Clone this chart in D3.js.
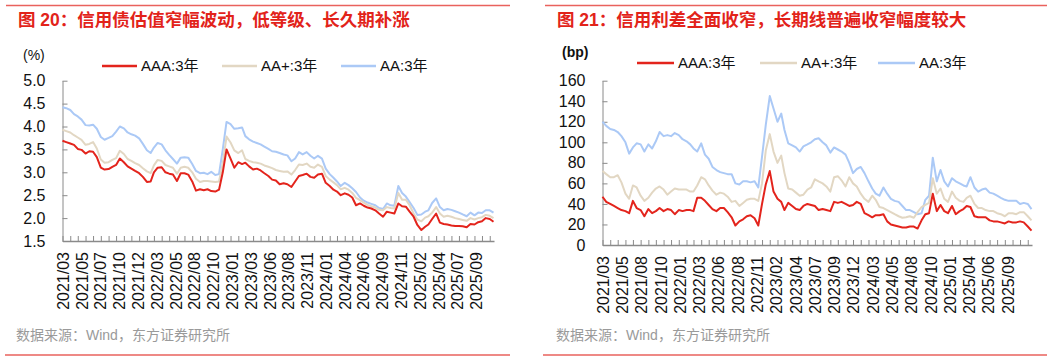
<!DOCTYPE html>
<html>
<head>
<meta charset="utf-8">
<script src="https://cdn.jsdelivr.net/npm/d3@7"></script>
<style>
  body { margin: 0; background: #fff; }
  svg text { font-family: "Liberation Sans", Arial, "Noto Sans CJK SC", sans-serif; }
</style>
</head>
<body>
<svg id="chart" width="1061" height="362"></svg>
<script>
// ---- data (one value per half month, 2021/03/01 .. 2025/11/16) ----
const parseDay = d3.timeParse("%Y-%m-%d");
const startDay = parseDay("2021-03-01");
const endDay = parseDay("2025-11-18");
const dates = [];
d3.timeMonth.range(startDay, parseDay("2025-12-01")).forEach(m => {
  dates.push(m);
  dates.push(d3.timeDay.offset(m, 15));
});

const seriesNames = ["AAA:3年", "AA+:3年", "AA:3年"];

// 图20: 估值 (%)
const yieldAAA = [3.69,3.66,3.63,3.60,3.51,3.49,3.41,3.46,3.45,3.33,
  3.10,3.06,3.07,3.12,3.16,3.30,3.22,3.13,3.08,3.03,
  2.98,2.90,2.79,2.80,3.00,3.10,3.11,3.00,2.97,2.95,
  2.81,2.98,2.98,2.95,2.80,2.60,2.63,2.61,2.63,2.59,
  2.58,2.62,3.00,3.50,3.30,3.10,3.22,3.18,3.21,3.13,
  3.06,3.08,3.04,2.98,2.92,2.84,2.82,2.74,2.76,2.74,
  2.68,2.80,2.92,2.94,2.97,2.90,2.88,2.95,2.97,2.77,
  2.70,2.62,2.58,2.50,2.54,2.51,2.45,2.28,2.32,2.27,
  2.23,2.21,2.17,2.10,2.03,2.14,2.12,2.10,2.32,2.26,
  2.25,2.14,2.03,1.85,1.74,1.81,1.86,1.98,2.10,1.90,
  1.87,1.86,1.84,1.83,1.83,1.82,1.80,1.87,1.86,1.91,
  1.93,2.00,1.98,1.92];
const yieldAAp = [3.93,3.90,3.87,3.81,3.76,3.71,3.60,3.62,3.66,3.52,
  3.28,3.21,3.22,3.27,3.31,3.47,3.40,3.29,3.25,3.20,
  3.16,3.09,3.02,2.98,3.15,3.27,3.25,3.16,3.13,3.10,
  2.97,3.10,3.12,3.10,3.00,2.86,2.79,2.81,2.81,2.80,
  2.79,2.80,3.20,3.78,3.65,3.48,3.42,3.48,3.29,3.25,
  3.22,3.21,3.19,3.15,3.12,3.09,3.05,3.03,3.01,3.02,
  2.95,3.05,3.17,3.16,3.19,3.12,3.10,3.17,3.12,2.92,
  2.84,2.78,2.72,2.63,2.66,2.62,2.55,2.44,2.39,2.34,
  2.29,2.26,2.23,2.18,2.17,2.24,2.22,2.21,2.55,2.40,
  2.40,2.28,2.10,1.97,1.93,2.01,2.04,2.12,2.24,2.10,
  2.03,2.05,2.03,2.00,1.98,1.96,1.94,2.00,1.97,2.00,
  2.02,2.07,2.05,2.00];
const yieldAA = [4.42,4.40,4.36,4.27,4.22,4.15,4.03,4.02,4.04,3.95,
  3.77,3.71,3.75,3.79,3.89,4.00,3.96,3.87,3.83,3.80,
  3.74,3.62,3.48,3.42,3.54,3.64,3.61,3.48,3.38,3.29,
  3.19,3.32,3.33,3.32,3.18,3.03,2.98,2.99,2.96,3.01,
  2.94,2.96,3.50,4.10,4.05,3.95,3.96,3.98,3.79,3.72,
  3.67,3.64,3.61,3.56,3.51,3.46,3.45,3.42,3.39,3.37,
  3.24,3.30,3.44,3.39,3.44,3.36,3.30,3.36,3.30,3.08,
  2.96,2.88,2.80,2.70,2.77,2.72,2.65,2.57,2.45,2.38,
  2.34,2.31,2.28,2.22,2.20,2.32,2.28,2.27,2.70,2.55,
  2.47,2.35,2.22,2.07,2.08,2.14,2.17,2.33,2.43,2.24,
  2.17,2.20,2.18,2.15,2.12,2.08,2.04,2.12,2.06,2.12,
  2.11,2.17,2.17,2.12];

// 图21: 信用利差 (bp)
const spreadAAA = [47,42,40,38,36,34,33,31,43,36,
  34,28,35,31,33,36,33,35,34,30,
  34,33,34,34,33,46,46,43,39,35,
  33,36,36,32,27,19,23,25,28,29,
  26,19,40,59,72,52,45,42,34,41,
  38,35,34,38,40,39,38,34,35,34,
  33,42,41,42,40,38,39,42,40,31,
  29,27,29,29,30,23,20,19,18,17,
  17,18,18,16,24,30,31,50,33,39,
  33,31,38,30,33,35,38,37,28,27,
  27,27,24,23,23,22,21,23,22,22,
  23,22,18,14];
const spreadAAp = [72,69,66,66,68,61,50,45,58,56,
  48,43,46,51,55,57,54,49,52,55,
  54,54,54,52,52,58,66,64,58,53,
  49,51,50,47,42,43,38,41,44,45,
  45,43,60,92,108,91,80,87,70,55,
  54,51,48,49,54,56,64,62,60,57,
  52,66,67,63,57,66,60,57,50,45,
  42,48,44,37,36,34,32,30,28,26.5,
  27,28,26.5,32,37,39,41,65,50,55,
  45,42,52,46,43,42,46,48,40,36,
  36,34,33,33,31,30,28,31,31,30,
  32,32,28,24];
const spreadAA = [120,116,113,112,110,106,100,89,95,99,
  98,91,98,94,101,110,106,107,106,109,
  107,103,101,98,94,91,99,88,84,76,
  73,71,70,69,69,60,59,62,62,61,
  62,56,86,117,145,133,120,128,112,99,
  97,95,91,96,98,100,103,104,100,97,
  90,95,93,91,88,80,70,74,76,70,
  62,55,50,48,56,50,45,43,42,38,
  34,34,32,30,31,44,48,85,62,73,
  62,57,65,62,60,58,57,66,56,52,
  54,55,51,50,48,46,44,43,43,43,
  40,41,40,35];

const labelsLeft = ["2021/03","2021/05","2021/07","2021/10","2021/12","2022/03","2022/05","2022/08",
  "2022/10","2023/01","2023/03","2023/06","2023/08","2023/11","2024/01","2024/04","2024/06",
  "2024/09","2024/11","2025/02","2025/04","2025/07","2025/09"];
const labelsRight = ["2021/03","2021/05","2021/08","2021/10","2022/01","2022/03","2022/06","2022/08",
  "2022/11","2023/02","2023/04","2023/07","2023/09","2023/12","2024/03","2024/05","2024/08",
  "2024/10","2025/01","2025/04","2025/06","2025/09"];
const yTicksLeft = [1.5, 2.0, 2.5, 3.0, 3.5, 4.0, 4.5, 5.0];
const yTicksRight = [0, 20, 40, 60, 80, 100, 120, 140, 160];

const colors = ["#e3241c", "#e2d7c3", "#abc9f6"];
const axisColor = "#8a8a8a";
const ruleColor = "#e9625d";

const svg = d3.select("#chart");

function panel(cfg) {
  const g = svg.append("g");
  const x = d3.scaleTime().domain([startDay, endDay]).range([cfg.x0, cfg.x1]);
  const y = d3.scaleLinear().domain([cfg.yTicks[0], cfg.yTicks[cfg.yTicks.length - 1]])
    .range([cfg.yBottom, cfg.yTop]);

  // red rules top and bottom
  g.append("line").attr("x1", cfg.ruleTop[0]).attr("x2", cfg.ruleTop[1])
    .attr("y1", 5.5).attr("y2", 5.5).attr("stroke", ruleColor).attr("stroke-width", 1.6);
  g.append("line").attr("x1", cfg.ruleBottom[0]).attr("x2", cfg.ruleBottom[1])
    .attr("y1", 355).attr("y2", 355).attr("stroke", ruleColor).attr("stroke-width", 1.6);

  g.append("text")
    .attr("x", cfg.titleX).attr("y", 26)
    .attr("fill", "#e2231a").attr("font-size", "17.5px").attr("font-weight", "bold")
    .text(cfg.title);

  g.append("text")
    .attr("x", cfg.unitX).attr("y", cfg.unitY).attr("dy", "0.35em")
    .attr("font-size", "14px").attr("font-weight", cfg.unitBold ? "bold" : "normal")
    .attr("fill", "#111")
    .text(cfg.unit);

  // legend
  seriesNames.forEach((name, i) => {
    const lx = cfg.legendX[i];
    g.append("line").attr("x1", lx).attr("x2", lx + cfg.legendLen)
      .attr("y1", cfg.legendY).attr("y2", cfg.legendY)
      .attr("stroke", colors[i]).attr("stroke-width", 2.5);
    g.append("text").attr("x", lx + cfg.legendLen + 4).attr("y", cfg.legendY).attr("dy", "0.35em")
      .attr("font-size", "15px").attr("fill", "#111").text(name);
  });

  // y axis
  const ya = g.append("g").attr("transform", `translate(${cfg.x0},0)`)
    .call(d3.axisLeft(y).tickValues(cfg.yTicks).tickFormat(cfg.yFormat)
      .tickSizeInner(-5).tickSizeOuter(0).tickPadding(17));
  ya.selectAll("path,line").attr("stroke", axisColor);
  ya.selectAll("text").attr("font-size", "16px").attr("fill", "#111")
    .attr("font-family", null);

  // x axis: monthly minor ticks
  const xa = g.append("g").attr("transform", `translate(0,${cfg.yBottom})`)
    .call(d3.axisBottom(x).tickValues(d3.timeMonth.range(startDay, endDay))
      .tickSizeInner(-5).tickSizeOuter(0).tickFormat(""));
  xa.selectAll("path,line").attr("stroke", axisColor);
  xa.select("path").attr("stroke-width", 1.3);

  // x axis: category labels
  const lab = d3.scalePoint().domain(cfg.labels).range(cfg.labelRange);
  const la = g.append("g").attr("transform", `translate(0,${cfg.yBottom})`)
    .call(d3.axisBottom(lab).tickSize(0));
  la.select("path").remove();
  la.selectAll("text")
    .attr("transform", "rotate(-90)")
    .attr("text-anchor", "end")
    .attr("x", -11).attr("y", 0).attr("dy", "0.36em")
    .attr("font-size", "16px").attr("fill", "#111");

  // lines, AA at back, AAA on top
  const line = d3.line().x((d, i) => x(dates[i])).y(d => y(d));
  [2, 1, 0].forEach(i => {
    g.append("path").datum(cfg.series[i])
      .attr("fill", "none").attr("stroke", colors[i]).attr("stroke-width", 2)
      .attr("stroke-linejoin", "round")
      .attr("d", line);
  });

  g.append("text").attr("x", cfg.sourceX).attr("y", 335).attr("dy", "0.35em")
    .attr("font-size", "14px").attr("fill", "#9a9a9a")
    .text("数据来源：Wind，东方证券研究所");
}

panel({
  title: "图 20：信用债估值窄幅波动，低等级、长久期补涨",
  titleX: 18, ruleTop: [6, 510], ruleBottom: [5, 510],
  unit: "(%)", unitX: 23, unitY: 55, unitBold: false,
  x0: 62.5, x1: 494, yTop: 80.7, yBottom: 241,
  yTicks: yTicksLeft, yFormat: d3.format(".1f"),
  labels: labelsLeft, labelRange: [62.5, 476],
  legendX: [102, 222, 341], legendLen: 35, legendY: 66,
  series: [yieldAAA, yieldAAp, yieldAA],
  sourceX: 16
});

panel({
  title: "图 21：信用利差全面收窄，长期线普遍收窄幅度较大",
  titleX: 557, ruleTop: [545, 1047], ruleBottom: [543, 1047],
  unit: "(bp)", unitX: 562, unitY: 52, unitBold: true,
  x0: 602.5, x1: 1032, yTop: 80.7, yBottom: 245,
  yTicks: yTicksRight, yFormat: d3.format("d"),
  labels: labelsRight, labelRange: [602.5, 1007.5],
  legendX: [637, 760, 878], legendLen: 37, legendY: 63,
  series: [spreadAAA, spreadAAp, spreadAA],
  sourceX: 556
});
</script>
</body>
</html>
